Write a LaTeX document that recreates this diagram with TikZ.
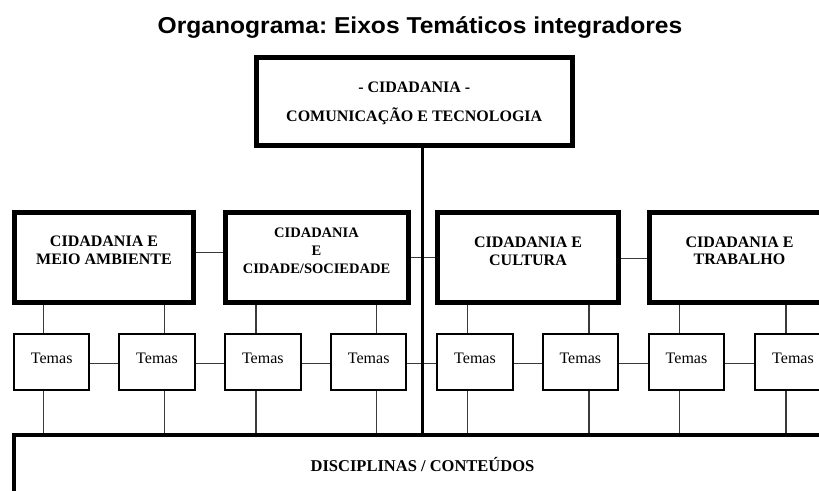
\documentclass[tikz,border=0pt]{standalone}
\usepackage{fontspec}
\setmainfont{Liberation Serif}
\newfontfamily\titlefont{Liberation Sans}[FakeStretch=1.07]
\definecolor{connc}{HTML}{3A3A3A}
\frenchspacing
\begin{document}
\begin{tikzpicture}[x=1pt,y=-1pt,
  thickbox/.style={draw,line width=5pt,inner sep=0pt,minimum width=180pt,minimum height=89.5pt},
  temabox/.style={draw,line width=2pt,inner sep=0pt,minimum width=75.5pt,minimum height=55.2pt,
    text height=11pt,text depth=8pt,font=\fontsize{16}{19}\selectfont},
  midtxt/.style={align=center,inner sep=0pt,font=\fontsize{16}{17.5}\selectfont\bfseries},
  toptxt/.style={align=center,inner sep=0pt,font=\fontsize{16}{28.5}\selectfont\bfseries},
  conn/.style={draw=connc,line width=1.4pt},
]
\clip (0,0) rectangle (819,490);
% title
\node[anchor=base,inner sep=0pt,font={\titlefont\fontsize{23}{27}\selectfont\bfseries}] (title) at (420,33) {Organograma:\ Eixos Temáticos integradores};
% top box
\node[thickbox,minimum width=316.5pt,minimum height=88.3pt] (top) at (414.25,101.65) {};
\node[toptxt,anchor=north] (toptext) at (414.25,82) {- CIDADANIA -\\COMUNICAÇÃO E TECNOLOGIA};
% middle boxes
\node[thickbox,minimum width=179.6pt] (b1) at (104,257.25) {};
\node[thickbox,minimum width=182.5pt] (b2) at (316.75,257.25) {};
\node[thickbox,minimum width=181.3pt] (b3) at (528,257.25) {};
\node[thickbox,minimum width=181.3pt] (b4) at (740.5,257.25) {};
\node[midtxt] (b1t) at (104,250.5) {CIDADANIA E\\MEIO AMBIENTE};
\node[midtxt,font=\fontsize{14.5}{18}\selectfont\bfseries] (b2t) at (316.5,251) {CIDADANIA\\E\\CIDADE/SOCIEDADE};
\node[midtxt] (b3t) at (528,251.5) {CIDADANIA E\\CULTURA};
\node[midtxt] (b4t) at (739.5,251) {CIDADANIA E\\TRABALHO};
% temas
\node[temabox] (t1) at (51.7,361.9) {Temas};
\node[temabox] (t2) at (157,361.9) {Temas};
\node[temabox] (t3) at (262.8,361.9) {Temas};
\node[temabox] (t4) at (368.7,361.9) {Temas};
\node[temabox] (t5) at (475,361.9) {Temas};
\node[temabox] (t6) at (580.3,361.9) {Temas};
\node[temabox] (t7) at (686.5,361.9) {Temas};
\node[temabox] (t8) at (793,361.9) {Temas};
% bottom box
\node[draw,line width=4pt,inner sep=0pt,minimum width=1000pt,minimum height=200pt] (disc) at (514,535.3) {};
\node[anchor=base,inner sep=0pt,font=\fontsize{16.5}{19}\selectfont\bfseries] (disct) at (422.5,471.7) {DISCIPLINAS / CONTEÚDOS};
% connectors between boxes
\draw[conn] ([yshift=5pt]b1.east) -- ([yshift=5pt]b2.west);
\draw[conn] (b2.east) -- (b3.west);
\draw[conn] ([yshift=-1pt]b3.east) -- ([yshift=-1pt]b4.west);
\foreach \a/\b in {t1/t2,t2/t3,t3/t4,t4/t5,t5/t6,t6/t7,t7/t8}
  \draw[conn] ([yshift=-1.4pt]\a.east) -- ([yshift=-1.4pt]\b.west);
\foreach \bx/\tx/\xx [count=\i] in {b1/t1/43.3,b1/t2/164.3,b2/t3/256,b2/t4/376.7,b3/t5/467.3,b3/t6/589,b4/t7/679.3,b4/t8/786}{
  \coordinate (v\i) at (\xx,0);
  \draw[conn] (\bx.south -| v\i) -- (\tx.north -| v\i);
  \draw[conn] (\tx.south -| v\i) -- (disc.north -| v\i);
}
% central line
\coordinate (cv) at (422.5,0);
\draw[line width=3.7pt] (top.south -| cv) -- (disc.north -| cv);
\end{tikzpicture}
\end{document}
